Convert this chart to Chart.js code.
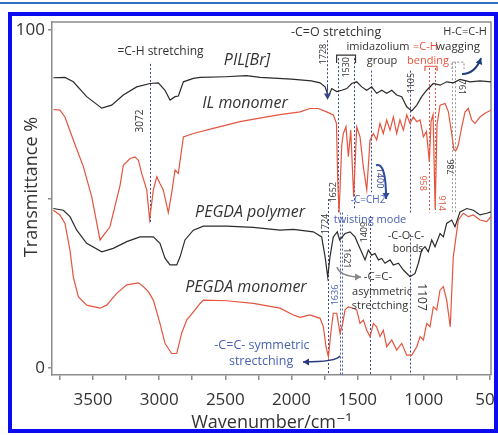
<!DOCTYPE html>
<html>
<head>
<meta charset="utf-8">
<script src="https://cdn.jsdelivr.net/npm/chart.js@4.4.1/dist/chart.umd.min.js"></script>
<style>
  html, body { margin: 0; padding: 0; background: #fff; overflow: hidden; }
  #wrap { position: relative; width: 498px; height: 435px; overflow: hidden; }
  #topline { position: absolute; left: 0; top: 2px; width: 498px; height: 2px; background: #2f6fc0; }
  #frame { position: absolute; left: 8px; top: 12px; width: 490px; height: 421px; box-sizing: border-box; border: 4px solid #0b0bf0; }
  canvas { position: absolute; left: 0; top: 0; }
</style>
</head>
<body>
<div id="wrap">
  <div id="topline"></div>
  <canvas id="chart" width="498" height="435"></canvas>
  <div id="frame"></div>
</div>
<script>
// FTIR spectra, wavenumber (cm-1) vs transmittance (%)

const pilWave = [3800, 3712, 3649, 3548, 3434, 3359, 3271, 3170, 3069, 3006, 2956, 2918, 2880, 2855, 2817, 2742, 2691, 2500, 2340, 2238, 2000, 1850, 1784, 1746, 1721, 1696, 1658, 1620, 1582, 1545, 1507, 1469, 1431, 1394, 1356, 1318, 1280, 1242, 1205, 1167, 1129, 1091, 1053, 1016, 978, 928, 877, 827, 777, 726, 650, 575, 492];
const pilT = [85.9, 86.0, 84.7, 80.3, 76.9, 77.8, 80.8, 83.2, 84.2, 84.4, 82.2, 79.3, 80.3, 80.5, 84.7, 85.7, 86.0, 86.2, 86.5, 86.0, 85.5, 85.0, 84.4, 83.2, 80.3, 82.7, 81.8, 82.2, 82.7, 84.2, 84.7, 83.2, 82.2, 83.2, 81.3, 82.2, 81.3, 82.2, 80.8, 80.3, 77.3, 76.1, 77.8, 80.3, 82.2, 84.2, 83.7, 84.7, 84.4, 85.4, 84.7, 85.0, 84.7];

const ilWave = [3800, 3750, 3712, 3649, 3573, 3510, 3447, 3372, 3321, 3296, 3271, 3220, 3183, 3157, 3132, 3094, 3072, 3044, 3018, 2994, 2969, 2931, 2906, 2880, 2855, 2817, 2742, 2591, 2389, 2187, 2087, 1935, 1860, 1797, 1734, 1684, 1660, 1650, 1640, 1620, 1608, 1588, 1570, 1552, 1530, 1507, 1482, 1457, 1431, 1406, 1381, 1356, 1331, 1306, 1280, 1255, 1230, 1205, 1180, 1154, 1129, 1104, 1079, 1053, 1028, 1003, 980, 958, 945, 930, 914, 900, 877, 839, 814, 789, 772, 755, 739, 713, 688, 663, 638, 613, 575, 537, 492];
const ilT = [76.5, 76.3, 74.3, 67.5, 59.6, 50.7, 37.9, 41.8, 50.0, 54.0, 60.0, 62.0, 62.5, 61.5, 57.6, 52.7, 44.0, 52.7, 56.6, 54.6, 52.7, 46.0, 51.7, 58.6, 57.6, 68.4, 69.4, 70.9, 72.9, 74.3, 75.0, 75.8, 76.8, 76.8, 75.8, 74.9, 72.4, 55.0, 46.0, 66.0, 69.4, 71.4, 62.5, 70.4, 50.7, 71.4, 68.4, 59.6, 52.7, 67.5, 69.4, 67.5, 72.4, 69.4, 73.4, 70.4, 74.3, 69.4, 73.4, 70.4, 74.9, 72.4, 74.3, 72.9, 73.4, 68.4, 70.0, 61.0, 73.0, 75.0, 47.0, 72.0, 77.8, 78.3, 75.8, 69.4, 64.5, 64.5, 66.0, 71.4, 75.8, 76.8, 73.4, 72.4, 74.3, 75.4, 76.3];

const polyWave = [3800, 3724, 3674, 3623, 3548, 3434, 3347, 3245, 3145, 3044, 2994, 2956, 2918, 2867, 2842, 2805, 2742, 2666, 2490, 2288, 2087, 1986, 1835, 1772, 1746, 1726, 1709, 1684, 1654, 1636, 1595, 1557, 1520, 1482, 1444, 1419, 1394, 1369, 1343, 1318, 1293, 1255, 1230, 1192, 1154, 1104, 1066, 1041, 1016, 991, 966, 940, 915, 877, 852, 827, 789, 764, 726, 675, 625, 575, 524, 492];
const polyT = [47.2, 46.7, 44.8, 40.8, 36.9, 34.4, 35.4, 37.4, 38.8, 38.8, 36.9, 32.5, 30.5, 30.5, 32.9, 37.9, 40.8, 42.0, 42.0, 41.6, 40.8, 41.0, 40.3, 38.8, 32.9, 27.0, 32.9, 38.8, 40.3, 37.9, 39.8, 40.3, 38.8, 35.4, 32.0, 34.9, 33.4, 33.9, 32.0, 32.4, 31.0, 32.0, 30.5, 31.0, 29.0, 27.0, 28.0, 31.0, 34.9, 35.9, 34.4, 37.9, 35.9, 39.8, 38.8, 42.8, 43.8, 41.8, 46.2, 47.2, 46.7, 45.3, 45.8, 46.2];

const monoWave = [3800, 3750, 3712, 3674, 3649, 3611, 3548, 3447, 3397, 3321, 3245, 3157, 3120, 3082, 3044, 2994, 2956, 2906, 2867, 2830, 2792, 2729, 2691, 2666, 2490, 2288, 2087, 1986, 1935, 1860, 1784, 1759, 1739, 1721, 1703, 1684, 1658, 1633, 1613, 1595, 1570, 1532, 1507, 1482, 1457, 1431, 1406, 1381, 1356, 1331, 1306, 1280, 1242, 1205, 1167, 1129, 1091, 1053, 1028, 1003, 978, 953, 928, 902, 877, 852, 827, 800, 777, 739, 701, 663, 625, 575, 524, 492];
const monoT = [46.7, 45.3, 42.8, 34.9, 27.0, 21.1, 18.6, 17.7, 18.6, 22.1, 24.6, 25.2, 24.1, 22.6, 20.1, 13.2, 7.3, 4.3, 4.3, 10.3, 14.2, 17.2, 19.1, 20.1, 19.9, 19.1, 17.7, 15.7, 15.0, 15.7, 14.7, 12.2, 6.3, 3.3, 10.3, 16.2, 16.2, 10.3, 13.2, 17.2, 18.1, 17.7, 17.2, 13.2, 14.2, 11.2, 9.3, 13.2, 12.2, 9.3, 11.2, 6.3, 8.3, 5.3, 7.3, 3.8, 3.8, 6.3, 9.3, 8.3, 13.2, 12.2, 18.1, 17.2, 23.1, 24.1, 20.1, 12.2, 32.9, 43.8, 45.8, 44.8, 45.3, 43.8, 43.3, 44.8];

const xTicks = [3750, 3500, 3250, 3000, 2750, 2500, 2250, 2000, 1750, 1500, 1250, 1000, 750, 500];
const yTicks = [0, 50, 100];

const FONT = "'Open Sans', 'DejaVu Sans', sans-serif";
const DARK = '#333333';
const NAVY = '#35458c';
const BLUE = '#4a62b0';
const RED = '#e4553f';
const GREY = '#9a9a9a';

// dotted marker lines: [wavenumber, from T, to T, colour]
const guides = [
  [3072, 90, 43, NAVY],
  [1728, 97, 80, NAVY],
  [1652, 91.7, 46, NAVY],
  [1530, 91.7, 47, NAVY],
  [1400, 88, 52, NAVY],
  [1105, 88, 46, NAVY],
  [958, 88.8, 46, RED],
  [914, 88.8, 46, RED],
  [786, 90.5, 46, GREY],
  [761, 90.5, 46, GREY],
  [1724, 50, -2, NAVY],
  [1636, 46, -2, BLUE],
  [1621, 46, -2, BLUE],
  [1409, 45, -2, NAVY],
  [1107, 39.5, -2, NAVY]
];

// brackets: [w1, w2, T top, T legs, colour, dotted]
const brackets = [
  [1659, 1516, 92.6, 90.3, '#333', false],
  [991, 900, 89.3, 87.9, RED, false],
  [786, 696, 90.5, 88.5, GREY, true]
];

// text: [text, w, T, size, colour, rotation (-1 up, 1 down), italic, align]
const notes = [
  ['=C-H stretching', 2990, 93.5, 12, DARK, 0],
  ['PIL[Br]', 2336, 91.1, 16, DARK, 0, true],
  ['IL monomer', 2351, 78.4, 16, DARK, 0, true],
  ['PEGDA polymer', 2313, 45.9, 16, DARK, 0, true],
  ['PEGDA monomer', 2344, 23.7, 16, DARK, 0, true],
  ['-C=O stretching', 1663, 99.2, 12.5, DARK, 0],
  ['imidazolium', 1346, 95, 11, DARK, 0],
  ['group', 1316, 90.8, 11, DARK, 0],
  ['=C-H', 1081, 95, 11, RED, 0, false, 'left'],
  ['wagging', 907, 95, 11.5, DARK, 0, false, 'left'],
  ['H-C=C-H', 688, 99.4, 11, DARK, 0],
  ['bending', 968, 90.8, 11, RED, 0],
  ['3072', 3145, 73.1, 10, DARK, -1],
  ['1728', 1762, 92.9, 9, DARK, -1],
  ['1530', 1588, 89, 9, DARK, -1],
  ['1105', 1096, 84.3, 9, DARK, -1],
  ['761', 711, 83.1, 9, DARK, 1],
  ['1652', 1686, 52, 9, DARK, -1],
  ['958', 1013, 54.7, 9, RED, 1],
  ['914', 862, 48.8, 9, RED, 1],
  ['786', 794, 59.5, 9, DARK, -1],
  ['1400', 1331, 56.2, 9, NAVY, 1],
  ['-C=CH2', 1421, 49.7, 10, BLUE, 0],
  ['twisting mode', 1406, 43.8, 11, BLUE, 0],
  ['1724', 1746, 42.6, 9, DARK, -1],
  ['1621', 1580, 32.5, 9, DARK, 1],
  ['1409', 1452, 40.2, 9, DARK, -1],
  ['-C-O-C-', 1134, 39.1, 11, DARK, 0],
  ['bonds', 1119, 35.2, 10.5, DARK, 0],
  ['-C=C-', 1346, 26.9, 11.5, DARK, 0],
  ['asymmetric', 1316, 22.5, 11, DARK, 0],
  ['strectching', 1331, 18.3, 11, DARK, 0],
  ['1107', 1021, 21.0, 12, DARK, 1],
  ['1636', 1671, 21.6, 9, BLUE, -1],
  ['-C=C- symmetric', 2223, 6.8, 12.5, BLUE, 0],
  ['strectching', 2230, 1.8, 12.5, BLUE, 0]
];

// curved arrows: [start, control, end, colour, width]
const arrows = [
  [[1361, 60], [1285, 61], [1285, 50], '#2c4a9e', 2],
  [[711, 87], [613, 87], [567, 91.7], '#1f3d7a', 2],
  [[1656, 29.9], [1633, 27], [1474, 26.9], '#888', 1.5],
  [[1633, 3.6], [1660, 1.8], [1913, 1.8], '#2a3a80', 1.5],
  [[1728, 84], [1728, 82], [1728, 79.5], NAVY, 1]
];

function toPoints(wave, vals) {
  return wave.map((w, i) => ({ x: w, y: vals[i] }));
}

function arrowHead(ctx, fx, fy, tx, ty, len, half) {
  const ang = Math.atan2(ty - fy, tx - fx);
  ctx.beginPath();
  ctx.moveTo(tx, ty);
  ctx.lineTo(tx - len * Math.cos(ang) + half * Math.sin(ang), ty - len * Math.sin(ang) - half * Math.cos(ang));
  ctx.lineTo(tx - len * Math.cos(ang) - half * Math.sin(ang), ty - len * Math.sin(ang) + half * Math.cos(ang));
  ctx.closePath();
  ctx.fill();
}

const annotate = {
  id: 'annotate',
  beforeDatasetsDraw(chart) {
    const { ctx, chartArea: a, scales: { x, y } } = chart;
    ctx.save();
    // top and right frame
    ctx.strokeStyle = '#8c8c8c';
    ctx.lineWidth = 1.5;
    ctx.beginPath();
    ctx.moveTo(a.left, a.top);
    ctx.lineTo(a.right, a.top);
    ctx.lineTo(a.right, a.bottom);
    ctx.stroke();

    ctx.lineWidth = 1;
    ctx.setLineDash([2, 2]);
    guides.forEach(([w, t1, t2, color]) => {
      const px = Math.round(x.getPixelForValue(w)) + 0.5;
      ctx.strokeStyle = color;
      ctx.beginPath();
      ctx.moveTo(px, y.getPixelForValue(t1));
      ctx.lineTo(px, y.getPixelForValue(t2));
      ctx.stroke();
    });
    ctx.restore();
  },
  afterDatasetsDraw(chart) {
    const { ctx, scales: { x, y } } = chart;
    ctx.save();

    brackets.forEach(([w1, w2, t, tl, color, dotted]) => {
      ctx.strokeStyle = color;
      ctx.lineWidth = 1.2;
      ctx.setLineDash(dotted ? [2, 2] : []);
      const x1 = x.getPixelForValue(w1), x2 = x.getPixelForValue(w2);
      ctx.beginPath();
      ctx.moveTo(x1, y.getPixelForValue(tl));
      ctx.lineTo(x1, y.getPixelForValue(t));
      ctx.lineTo(x2, y.getPixelForValue(t));
      ctx.lineTo(x2, y.getPixelForValue(tl));
      ctx.stroke();
    });
    ctx.setLineDash([]);

    arrows.forEach(([s, c, e, color, width]) => {
      const sx = x.getPixelForValue(s[0]), sy = y.getPixelForValue(s[1]);
      const cx = x.getPixelForValue(c[0]), cy = y.getPixelForValue(c[1]);
      const ex = x.getPixelForValue(e[0]), ey = y.getPixelForValue(e[1]);
      ctx.strokeStyle = color;
      ctx.fillStyle = color;
      ctx.lineWidth = width;
      ctx.beginPath();
      ctx.moveTo(sx, sy);
      ctx.quadraticCurveTo(cx, cy, ex, ey);
      ctx.stroke();
      arrowHead(ctx, cx, cy, ex, ey, 6, 3.5);
    });

    notes.forEach(([text, w, t, size, color, rot, italic, align]) => {
      const px = x.getPixelForValue(w), py = y.getPixelForValue(t);
      ctx.save();
      ctx.translate(px, py);
      if (rot) ctx.rotate(rot * Math.PI / 2);
      ctx.font = (italic ? 'italic ' : '') + size + 'px ' + FONT;
      ctx.fillStyle = color;
      ctx.textAlign = align || 'center';
      ctx.textBaseline = 'middle';
      ctx.fillText(text, 0, 0);
      ctx.restore();
    });

    // y axis title
    ctx.save();
    ctx.translate(32, 187);
    ctx.rotate(-Math.PI / 2);
    ctx.font = '18px ' + FONT;
    ctx.fillStyle = DARK;
    ctx.textAlign = 'center';
    ctx.textBaseline = 'middle';
    ctx.fillText('Transmittance %', 0, 0);
    ctx.restore();

    ctx.restore();
  }
};

const lineStyle = { borderWidth: 1.2, pointRadius: 0, tension: 0, fill: false };

new Chart(document.getElementById('chart'), {
  type: 'line',
  data: {
    datasets: [
      { label: 'PIL[Br]', data: toPoints(pilWave, pilT), borderColor: '#2b2b2b', ...lineStyle },
      { label: 'IL monomer', data: toPoints(ilWave, ilT), borderColor: RED, ...lineStyle },
      { label: 'PEGDA polymer', data: toPoints(polyWave, polyT), borderColor: '#2b2b2b', ...lineStyle },
      { label: 'PEGDA monomer', data: toPoints(monoWave, monoT), borderColor: RED, ...lineStyle }
    ]
  },
  options: {
    responsive: false,
    animation: false,
    events: [],
    layout: { padding: { left: 0, top: 22, right: 7, bottom: 0 } },
    plugins: { legend: { display: false }, tooltip: { enabled: false } },
    scales: {
      x: {
        type: 'linear',
        reverse: true,
        min: 492,
        max: 3810,
        afterBuildTicks: s => { s.ticks = xTicks.map(v => ({ value: v })); },
        afterFit: s => { s.height = 60; s.paddingLeft = 0; s.paddingRight = 0; },
        ticks: {
          autoSkip: false,
          maxRotation: 0,
          padding: 10,
          color: DARK,
          font: { family: FONT, size: 17 },
          callback: v => (v % 500 === 0 ? String(v) : '')
        },
        grid: { display: true, drawOnChartArea: false, drawTicks: true, tickLength: 5, color: '#8c8c8c', lineWidth: 1.5 },
        border: { display: true, color: '#8c8c8c', width: 1.5 },
        title: { display: true, text: 'Wavenumber/cm\u207B\u00B9', color: DARK, font: { family: FONT, size: 18 }, padding: { top: 0, bottom: 1 } }
      },
      y: {
        type: 'linear',
        min: -2.07,
        max: 102.4,
        afterBuildTicks: s => { s.ticks = yTicks.map(v => ({ value: v })); },
        afterFit: s => { s.width = 52; s.paddingTop = 0; s.paddingBottom = 0; },
        ticks: {
          padding: 3,
          color: DARK,
          font: { family: FONT, size: 17 },
          callback: v => (v === 50 ? '' : String(v))
        },
        grid: { display: true, drawOnChartArea: false, drawTicks: true, tickLength: 4, color: '#8c8c8c', lineWidth: 1.5 },
        border: { display: true, color: '#8c8c8c', width: 1.5 }
      }
    }
  },
  plugins: [annotate]
});
</script>
</body>
</html>
